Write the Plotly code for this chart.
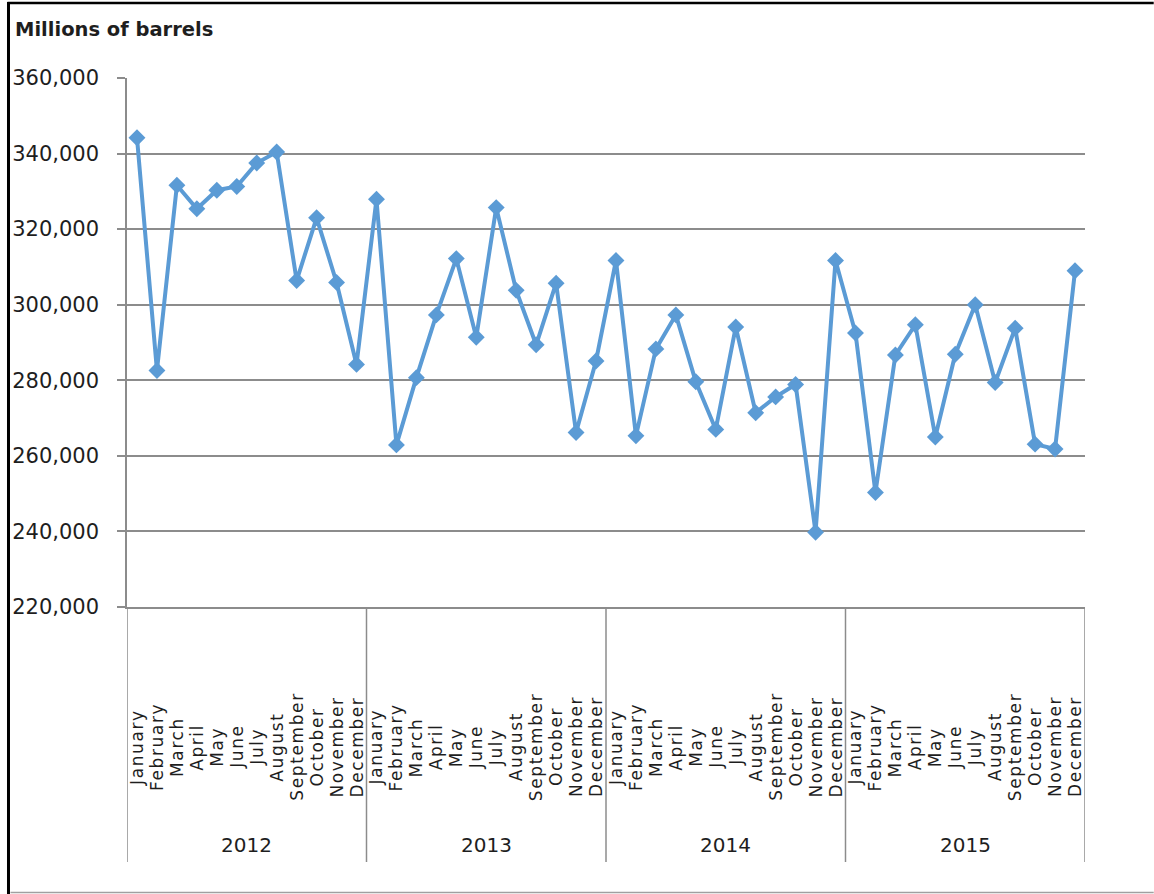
import plotly.graph_objects as go

years = ["2012", "2013", "2014", "2015"]
months = ["January", "February", "March", "April", "May", "June", "July",
          "August", "September", "October", "November", "December"]

values_2012 = [344200, 282600, 331600, 325400, 330300, 331300, 337500, 340400, 306400, 323000, 305900, 284200]
values_2013 = [327900, 262900, 280700, 297300, 312200, 291400, 325700, 303800, 289400, 305700, 266200, 285100]
values_2014 = [311700, 265300, 288300, 297300, 279600, 267000, 294100, 271400, 275600, 278900, 239800, 311700]
values_2015 = [292500, 250300, 286700, 294700, 265000, 286900, 300000, 279400, 293800, 263100, 261800, 309000]

y_ticks = [220000, 240000, 260000, 280000, 300000, 320000, 340000, 360000]
y_title = "Millions of barrels"

all_values = values_2012 + values_2013 + values_2014 + values_2015
x_idx = list(range(len(all_values)))

LINE = "#5B9BD5"
GRID = "#8C8C8C"
TXT = "#1E1E1E"
FONT = "DejaVu Sans"

fig = go.Figure()
fig.add_trace(go.Scatter(
    x=x_idx, y=all_values, mode="lines+markers",
    line=dict(color=LINE, width=4),
    marker=dict(symbol="diamond", size=13, color=LINE),
    showlegend=False, hoverinfo="skip",
))

# plot area in pixels: left 123, right 1085, top 78, bottom 607
L, R, T, B = 123, 1085, 78, 607
W, H = 1154, 894

def px(xp):
    return (xp - L) / (R - L)

def py(yp):
    return (B - yp) / (B - T)

annotations = []
for i, lab in enumerate([m for _ in years for m in months]):
    annotations.append(dict(
        x=i, xref="x", y=py(747), yref="paper", text='<span style="letter-spacing:1.6px">' + lab + '</span>',
        textangle=-90, showarrow=False, xanchor="center", yanchor="middle",
        font=dict(family=FONT, size=17, color=TXT),
    ))
for k, yr in enumerate(years):
    annotations.append(dict(
        x=k * 12 + 5.5, xref="x", y=py(845), yref="paper", text=yr,
        showarrow=False, xanchor="center", yanchor="middle",
        font=dict(family=FONT, size=20, color=TXT),
    ))
annotations.append(dict(
    x=px(9), xref="paper", y=py(29), yref="paper", text="<b>" + y_title + "</b>",
    showarrow=False, xanchor="left", yanchor="middle",
    font=dict(family=FONT, size=19.5, color=TXT),
))

shapes = []
for k in range(len(years) + 1):
    shapes.append(dict(type="line", xref="x", yref="paper",
                       x0=k * 12 - 0.5, x1=k * 12 - 0.5, y0=0, y1=py(862),
                       line=dict(color=GRID, width=1.5)))
# outer frame
shapes.append(dict(type="line", xref="paper", yref="paper",
                   x0=px(4), x1=px(4), y0=py(2), y1=py(894),
                   line=dict(color="#000000", width=3)))
shapes.append(dict(type="line", xref="paper", yref="paper",
                   x0=px(3), x1=px(1154), y0=py(3), y1=py(3),
                   line=dict(color="#000000", width=2.5)))
shapes.append(dict(type="line", xref="paper", yref="paper",
                   x0=px(6), x1=px(1154), y0=py(892.5), y1=py(892.5),
                   line=dict(color="#A0A0A0", width=1.5)))

fig.update_layout(
    width=W, height=H,
    margin=dict(l=L, r=W - R, t=T, b=H - B, pad=0),
    paper_bgcolor="white", plot_bgcolor="white",
    annotations=annotations, shapes=shapes,
    xaxis=dict(range=[-0.5, 47.5], showticklabels=False, showgrid=False,
               zeroline=False, showline=True, linecolor=GRID, linewidth=1.5,
               ticks=""),
    yaxis=dict(range=[220000, 360000], tickvals=y_ticks, tickformat=",d",
               showgrid=True, gridcolor=GRID, gridwidth=1.5, zeroline=False,
               showline=True, linecolor=GRID, linewidth=1.5,
               ticks="outside", ticklen=8, tickcolor=GRID, tickwidth=1.5,
               ticklabelstandoff=14,
               tickfont=dict(family=FONT, size=21, color=TXT)),
    font=dict(family=FONT),
)

fig.write_html("out.html", config={"displayModeBar": False},
               post_script="document.body.style.margin='0';document.body.style.overflow='hidden';")
